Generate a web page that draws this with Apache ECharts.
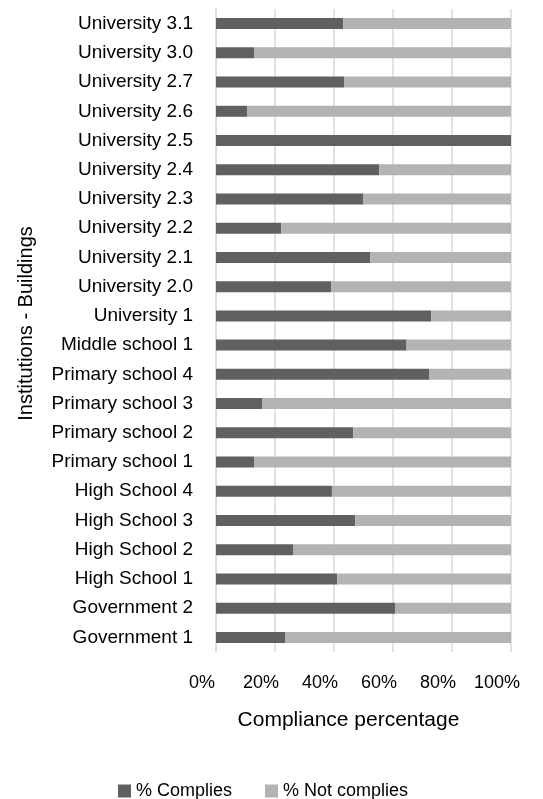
<!DOCTYPE html>
<html>
<head>
<meta charset="utf-8">
<script src="https://cdn.jsdelivr.net/npm/echarts@6/dist/echarts.min.js"></script>
<style>
  html, body { margin: 0; padding: 0; background: #fff; }
  #chart { width: 543px; height: 799px; }
</style>
</head>
<body>
<div id="chart"></div>
<script>
// categories, bottom to top (as category axis draws them)
const buildings = [
  'Government 1', 'Government 2', 'High School 1', 'High School 2',
  'High School 3', 'High School 4', 'Primary school 1', 'Primary school 2',
  'Primary school 3', 'Primary school 4', 'Middle school 1', 'University 1',
  'University 2.0', 'University 2.1', 'University 2.2', 'University 2.3',
  'University 2.4', 'University 2.5', 'University 2.6', 'University 2.7',
  'University 3.0', 'University 3.1'
];

// % complies
const complies = [
  23.4, 60.7, 41.1, 26.1, 47.2, 39.3, 12.9, 46.5, 15.6, 72.2, 64.6, 73.0,
  39.0, 52.3, 22.1, 50.0, 55.3, 100, 10.5, 43.4, 12.9, 43.1
];

// % not complies = rest of each bar
const notComplies = [
  76.6, 39.3, 58.9, 73.9, 52.8, 60.7, 87.1, 53.5, 84.4, 27.8, 35.4, 27.0,
  61.0, 47.7, 77.9, 50.0, 44.7, 0, 89.5, 56.6, 87.1, 56.9
];

const xTicks = [0, 20, 40, 60, 80, 100];

const font = '"Liberation Sans", Arial, sans-serif';

let myChart = echarts.init(document.getElementById('chart'));

myChart.setOption({
  animation: false,
  textStyle: { fontFamily: font },
  legend: {
    left: 113,
    top: 777,
    itemWidth: 13,
    itemHeight: 13,
    itemGap: 33,
    itemStyle: { borderWidth: 0 },
    icon: 'rect',
    textStyle: { fontFamily: font, fontSize: 18, color: '#000' },
    data: ['% Complies', '% Not complies']
  },
  grid: {
    left: 216,
    right: 32,
    top: 9,
    bottom: 147,
    outerBoundsMode: 'none'
  },
  xAxis: {
    type: 'value',
    min: xTicks[0],
    max: xTicks[xTicks.length - 1],
    interval: 20,
    name: 'Compliance percentage',
    nameLocation: 'middle',
    nameGap: 58,
    nameMoveOverlap: false,
    nameTextStyle: { fontFamily: font, fontSize: 21, color: '#000', padding: [0, 30, 0, 0] },
    axisLine: { show: false },
    axisTick: { show: false },
    axisLabel: {
      margin: 22,
      fontFamily: font,
      fontSize: 18,
      color: '#000',
      padding: [0, 28, 0, 0],
      formatter: '{value}%'
    },
    splitLine: { lineStyle: { color: '#d9d9d9', width: 1.5 } }
  },
  yAxis: {
    type: 'category',
    data: buildings,
    name: 'Institutions - Buildings',
    nameLocation: 'middle',
    nameGap: 180,
    nameMoveOverlap: false,
    nameTextStyle: { fontFamily: font, fontSize: 20, color: '#000', padding: [0, 0, 0, 14] },
    axisLine: { show: true, lineStyle: { color: '#d9d9d9', width: 1.5 } },
    axisTick: { show: false },
    axisLabel: {
      interval: 0,
      margin: 23,
      fontFamily: font,
      fontSize: 19,
      color: '#000'
    }
  },
  series: [
    {
      name: '% Complies',
      type: 'bar',
      stack: 'total',
      barWidth: 11,
      itemStyle: { color: '#606060' },
      data: complies
    },
    {
      name: '% Not complies',
      type: 'bar',
      stack: 'total',
      barWidth: 11,
      itemStyle: { color: '#b3b3b3' },
      data: notComplies
    }
  ]
});

window.addEventListener('resize', function () {
  myChart.resize();
});
</script>
</body>
</html>
